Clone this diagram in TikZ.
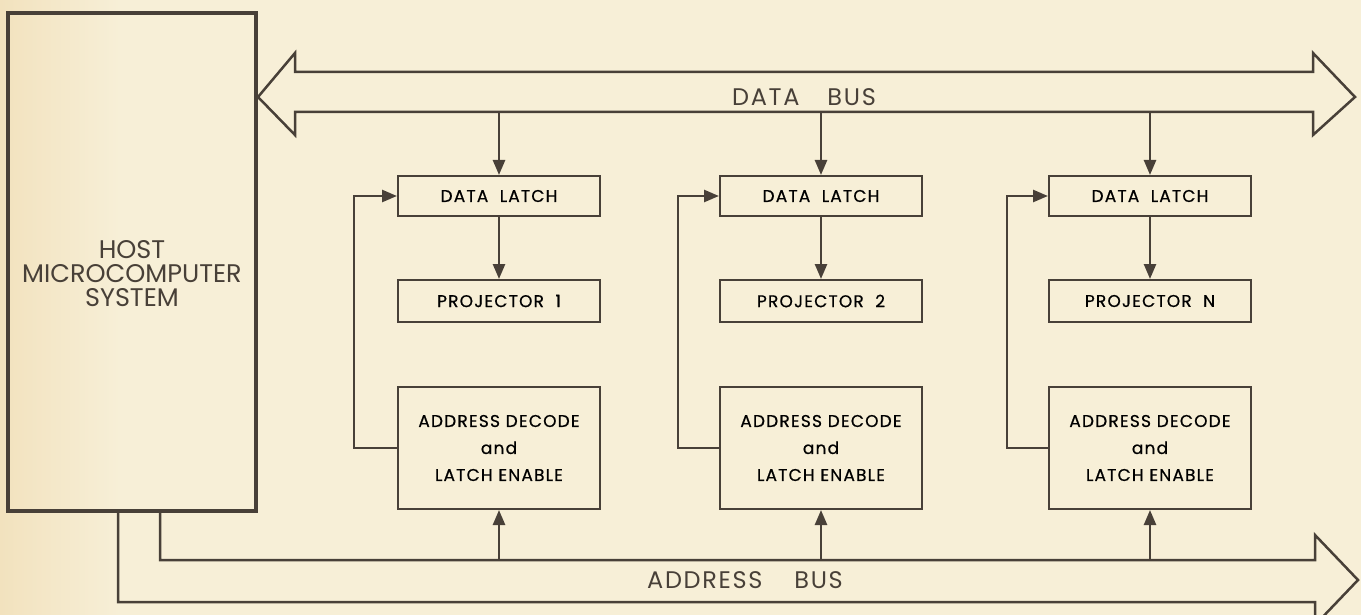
\documentclass[tikz,border=0pt]{standalone}
\usepackage{fontspec}
\setmainfont{Poppins}
\usepackage{tikz}
\usetikzlibrary{arrows.meta,positioning}

\definecolor{ink}{RGB}{72,64,56}
\definecolor{paper}{RGB}{247,239,215}
\definecolor{paperedge}{RGB}{242,226,190}

\tikzset{
	unit/.style={draw=ink,line width=2pt,minimum width=202pt,inner sep=0pt,text=black},
	boxfont/.style={font=\fontsize{17}{27}\selectfont\addfontfeature{LetterSpace=7,FakeBold=0.6}},
	latchbox/.style={unit,boxfont,minimum height=40pt},
	projbox/.style={unit,boxfont,minimum height=42pt},
	decodebox/.style={unit,boxfont,minimum height=122pt,align=center},
	link/.style={draw=ink,line width=2.5pt},
	bus/.style={draw=ink,line width=2.5pt,line join=miter},
	buslabel/.style={text=ink,font=\fontsize{24}{24}\selectfont\addfontfeature{LetterSpace=7}}
}

\begin{document}
\begin{tikzpicture}[x=1pt,y=-1pt,>={Triangle[length=15pt,width=12pt]}]
	\fill[paper] (0,0) rectangle (1361,615);
	\shade[left color=paperedge,right color=paper] (0,0) rectangle (120,615);
	\useasboundingbox (0,0) rectangle (1361,615);

	% host side
	\node(host) [draw=ink,line width=4pt,minimum width=248pt,minimum height=498pt] at (132,262) {};
	\node(hostlabel) [text=ink,align=center,font=\fontsize{25.5}{24}\selectfont] at ([yshift=-12pt]host.center) {HOST\\MICROCOMPUTER\\SYSTEM};

	% the two buses
	\draw[bus] (258,97) -- (295,53) -- (295,72) -- (1313,72) -- (1313,53) -- (1355,97)
		-- (1313,135) -- (1313,112) -- (295,112) -- (295,135) -- cycle;
	\node(databus) [buslabel] at (804,97) {DATA\hspace{28pt}BUS};
	\draw[bus] (160,511) -- (160,560) -- (1315,560) -- (1315,535) -- (1358,580)
		-- (1315,625) -- (1315,602) -- (118,602) -- (118,511);
	\node(addrbus) [buslabel] at (745,580) {ADDRESS\hspace{32pt}BUS};

	\begin{scope}[shift={(499,0)}]
		\node(latch) [latchbox] at (0,196) {DATA\ \ LATCH};
		\node(proj)  [projbox] at (0,301) {PROJECTOR\ \ 1};
		\node(dec)   [decodebox] at (0,448) {ADDRESS DECODE\\and\\LATCH ENABLE};
		\coordinate(dtap) at (0,112);
		\coordinate(atap) at (0,560);
		\draw[link,->] (dtap) -- (latch.north);
		\draw[link,->] (latch.south) -- (proj.north);
		\draw[link,->] (atap) -- (dec.south);
		\draw[link,->] (dec.west) -- ++(-43,0) |- (latch.west);
	\end{scope}
	\begin{scope}[shift={(821,0)}]
		\node(latch) [latchbox] at (0,196) {DATA\ \ LATCH};
		\node(proj)  [projbox] at (0,301) {PROJECTOR\ \ 2};
		\node(dec)   [decodebox] at (0,448) {ADDRESS DECODE\\and\\LATCH ENABLE};
		\coordinate(dtap) at (0,112);
		\coordinate(atap) at (0,560);
		\draw[link,->] (dtap) -- (latch.north);
		\draw[link,->] (latch.south) -- (proj.north);
		\draw[link,->] (atap) -- (dec.south);
		\draw[link,->] (dec.west) -- ++(-41,0) |- (latch.west);
	\end{scope}
	\begin{scope}[shift={(1150,0)}]
		\node(latch) [latchbox] at (0,196) {DATA\ \ LATCH};
		\node(proj)  [projbox] at (0,301) {PROJECTOR\ \ N};
		\node(dec)   [decodebox] at (0,448) {ADDRESS DECODE\\and\\LATCH ENABLE};
		\coordinate(dtap) at (0,112);
		\coordinate(atap) at (0,560);
		\draw[link,->] (dtap) -- (latch.north);
		\draw[link,->] (latch.south) -- (proj.north);
		\draw[link,->] (atap) -- (dec.south);
		\draw[link,->] (dec.west) -- ++(-41,0) |- (latch.west);
	\end{scope}
\end{tikzpicture}
\end{document}
